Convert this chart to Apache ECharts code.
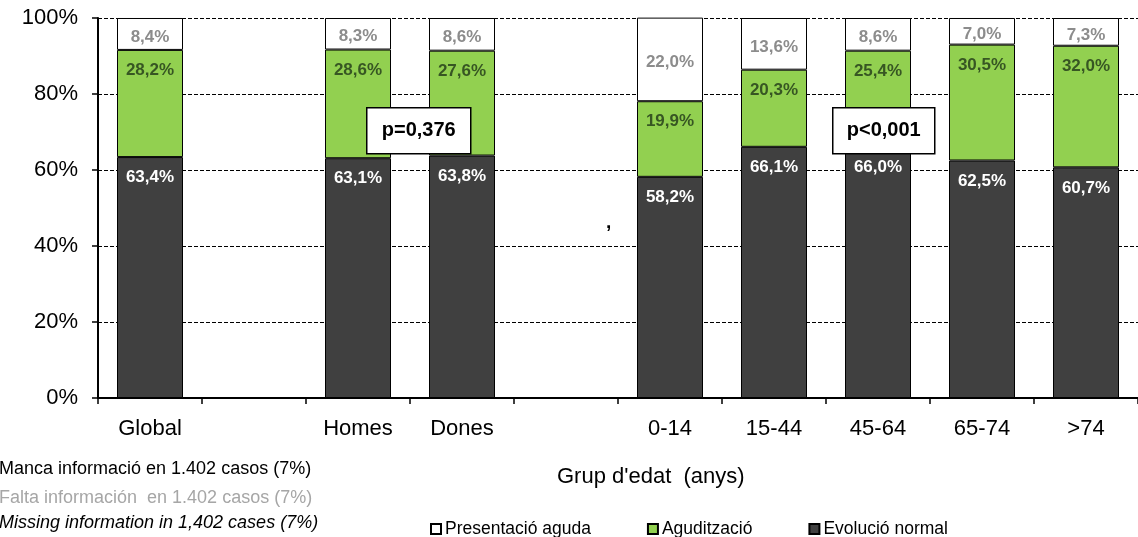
<!DOCTYPE html>
<html>
<head>
<meta charset="utf-8">
<script src="https://cdn.jsdelivr.net/npm/echarts@6/dist/echarts.min.js"></script>
<style>
  html, body { margin: 0; padding: 0; background: #fff; }
  #chart { width: 1138px; height: 537px; }
</style>
</head>
<body>
<div id="chart"></div>
<script>
// categories (blank ones are the gaps between groups)
const categories = ['Global', '', 'Homes', 'Dones', '', '0-14', '15-44', '45-64', '65-74', '>74'];
const evolucioNormal = [63.4, '-', 63.1, 63.8, '-', 58.2, 66.1, 66.0, 62.5, 60.7];
const aguditzacio = [28.2, '-', 28.6, 27.6, '-', 19.9, 20.3, 25.4, 30.5, 32.0];
const presentacioAguda = [8.4, '-', 8.3, 8.6, '-', 22.0, 13.6, 8.6, 7.0, 7.3];
const legendNames = ['Presentació aguda', 'Agudització', 'Evolució normal'];
const notes = [
  'Manca informació en 1.402 casos (7%)',
  'Falta información  en 1.402 casos (7%)',
  'Missing information in 1,402 cases (7%)'
];

const FONT = '"Liberation Sans", Arial, sans-serif';
const pct = p => p.value.toFixed(1).replace('.', ',') + '%';

const chart = echarts.init(document.getElementById('chart'));

const labelBase = {
  show: true,
  fontFamily: FONT,
  fontWeight: 'bold',
  fontSize: 17,
  formatter: pct
};

// white box with a p value, drawn over the bars
function pBox(left, width, text) {
  return {
    type: 'group', left: left, top: 107,
    children: [
      { type: 'rect', z: 100, shape: { x: 0, y: 0, width: width, height: 46 },
        style: { fill: '#fff', stroke: '#000', lineWidth: 1.5 } },
      { type: 'text', z: 101, x: width / 2, y: 23,
        style: { text: text, font: 'bold 20px ' + FONT, fill: '#000', align: 'center', verticalAlign: 'middle' } }
    ]
  };
}

const option = {
  animation: false,
  grid: {
    left: 98,
    top: 18,
    width: 1047,
    height: 380
  },
  legend: {
    data: legendNames,
    left: 425,
    top: 515,
    icon: 'rect',
    itemWidth: 10,
    itemHeight: 10,
    itemGap: 56,
    textStyle: { fontFamily: FONT, fontSize: 17.5, color: '#000', padding: [0, 0, 0, -1] }
  },
  xAxis: {
    type: 'category',
    data: categories,
    axisLine: { lineStyle: { color: '#000', width: 2 } },
    axisTick: { show: true, alignWithLabel: false, length: 6, lineStyle: { color: '#000', width: 1.5 } },
    axisLabel: { interval: 0, fontFamily: FONT, fontSize: 22, color: '#000', margin: 20 },
    splitLine: { show: false }
  },
  yAxis: {
    type: 'value',
    min: 0,
    max: 100,
    interval: 20,
    axisLine: { show: true, lineStyle: { color: '#000', width: 2 } },
    axisTick: { show: true, length: 6, lineStyle: { color: '#000', width: 1.5 } },
    axisLabel: { formatter: '{value}%', fontFamily: FONT, fontSize: 22, color: '#000', margin: 20 },
    splitLine: { show: true, lineStyle: { color: '#000', type: [4, 2], width: 1 } }
  },
  series: [
    {
      name: 'Evolució normal',
      type: 'bar',
      stack: 'total',
      barWidth: 66,
      data: evolucioNormal,
      itemStyle: { color: '#404040', borderColor: '#000', borderWidth: 1 },
      label: Object.assign({}, labelBase, { position: 'insideTop', distance: 12, color: '#fff' })
    },
    {
      name: 'Agudització',
      type: 'bar',
      stack: 'total',
      barWidth: 66,
      data: aguditzacio,
      itemStyle: { color: '#92D050', borderColor: '#000', borderWidth: 1 },
      label: Object.assign({}, labelBase, { position: 'insideTop', distance: 12, color: '#375623' })
    },
    {
      name: 'Presentació aguda',
      type: 'bar',
      stack: 'total',
      barWidth: 66,
      data: presentacioAguda,
      itemStyle: { color: '#fff', borderColor: '#000', borderWidth: 1 },
      label: Object.assign({}, labelBase, { position: 'inside', offset: [0, 3], color: '#8c8c8c' })
    }
  ],
  graphic: [
    {
      type: 'text', left: 557, top: 466, z: 10,
      style: { text: "Grup d'edat  (anys)", font: '22px ' + FONT, fill: '#000' }
    },
    {
      type: 'text', left: 606, top: 213, z: 10,
      style: { text: ',', font: 'bold 19px ' + FONT, fill: '#000' }
    },
    pBox(366, 104, 'p=0,376'),
    pBox(832, 102, 'p<0,001'),
    {
      type: 'text', left: -1, top: 460, z: 10,
      style: { text: notes[0], font: '18px ' + FONT, fill: '#000' }
    },
    {
      type: 'text', left: -1, top: 489, z: 10,
      style: { text: notes[1], font: '18px ' + FONT, fill: '#a6a6a6' }
    },
    {
      type: 'text', left: -1, top: 514, z: 10,
      style: { text: notes[2], font: 'italic 18px ' + FONT, fill: '#000' }
    }
  ]
};

chart.setOption(option);
</script>
</body>
</html>
